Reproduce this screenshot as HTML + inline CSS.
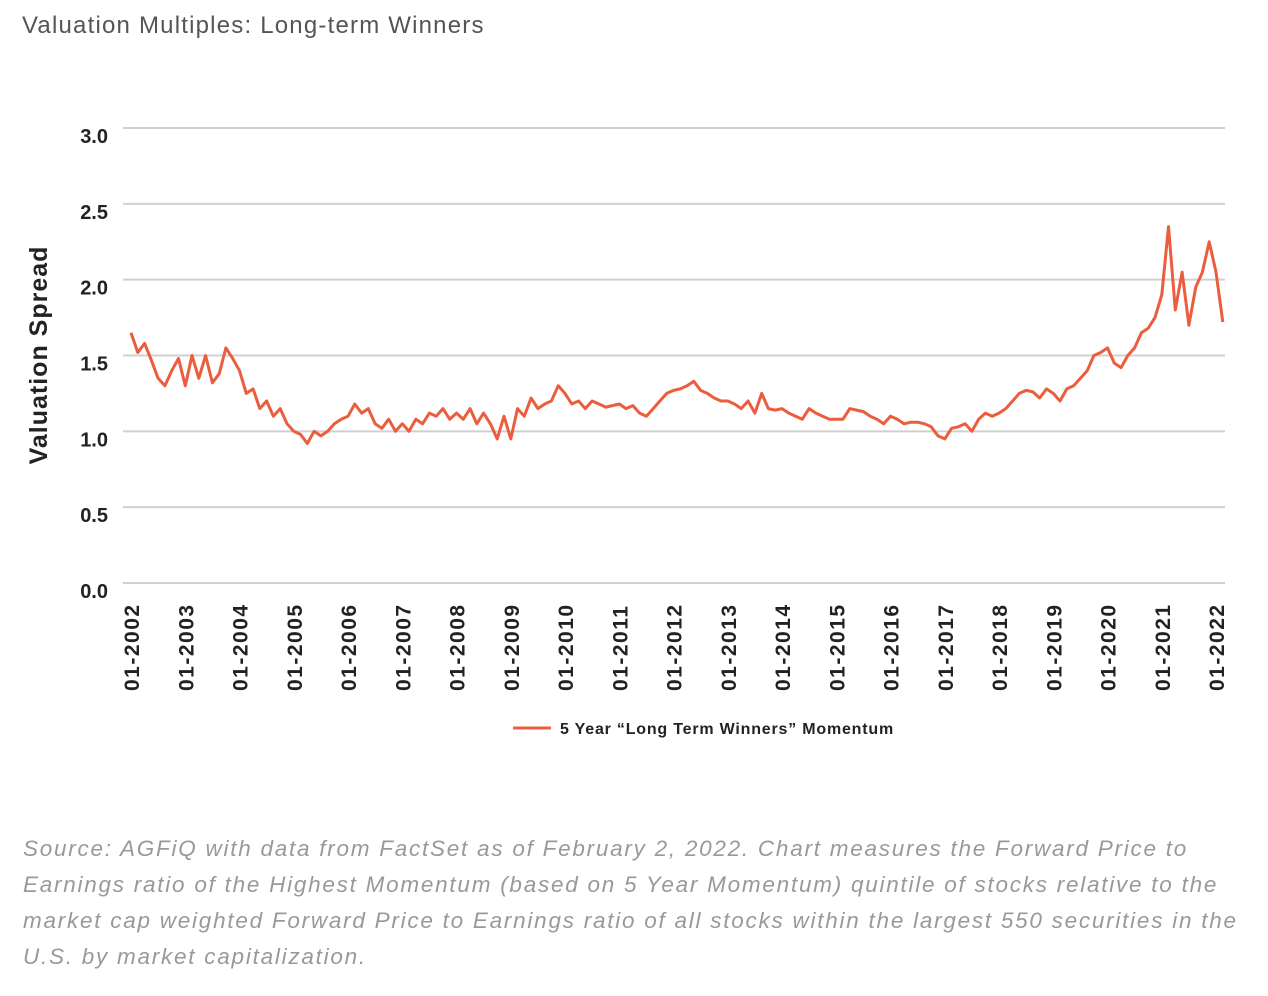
<!DOCTYPE html>
<html><head><meta charset="utf-8"><style>
body{margin:0;background:#fff;width:1268px;height:996px;overflow:hidden;font-family:"Liberation Sans",sans-serif}
#title{position:absolute;left:22px;top:12px;font-size:24px;color:#555;letter-spacing:1.2px}
#src{position:absolute;left:23px;top:831px;white-space:nowrap;font-size:22.5px;line-height:36px;font-style:italic;color:#999;letter-spacing:1.75px}
svg{position:absolute;left:0;top:0}
</style></head><body>
<div id="title">Valuation Multiples: Long-term Winners</div>
<svg id="chart" width="1268" height="800"></svg>
<div id="src">Source: AGFiQ with data from FactSet as of February 2, 2022. Chart measures the Forward Price to<br>Earnings ratio of the Highest Momentum (based on 5 Year Momentum) quintile of stocks relative to the<br>market cap weighted Forward Price to Earnings ratio of all stocks within the largest 550 securities in the<br>U.S. by market capitalization.</div>
<script>
const yTicks=[0,0.5,1.0,1.5,2.0,2.5,3.0];
const xLabels=["01-2002","01-2003","01-2004","01-2005","01-2006","01-2007","01-2008","01-2009","01-2010","01-2011","01-2012","01-2013","01-2014","01-2015","01-2016","01-2017","01-2018","01-2019","01-2020","01-2021","01-2022"];
const startYear=2002, stepYear=1/8;
const values=[
1.65,1.52,1.58,1.47,1.35,1.30,1.40,1.48,
1.30,1.50,1.35,1.50,1.32,1.38,1.55,1.48,
1.40,1.25,1.28,1.15,1.20,1.10,1.15,1.05,
1.00,0.98,0.92,1.00,0.97,1.00,1.05,1.08,
1.10,1.18,1.12,1.15,1.05,1.02,1.08,1.00,
1.05,1.00,1.08,1.05,1.12,1.10,1.15,1.08,
1.12,1.08,1.15,1.05,1.12,1.05,0.95,1.10,
0.95,1.15,1.10,1.22,1.15,1.18,1.20,1.30,
1.25,1.18,1.20,1.15,1.20,1.18,1.16,1.17,
1.18,1.15,1.17,1.12,1.10,1.15,1.20,1.25,
1.27,1.28,1.30,1.33,1.27,1.25,1.22,1.20,
1.20,1.18,1.15,1.20,1.12,1.25,1.15,1.14,
1.15,1.12,1.10,1.08,1.15,1.12,1.10,1.08,
1.08,1.08,1.15,1.14,1.13,1.10,1.08,1.05,
1.10,1.08,1.05,1.06,1.06,1.05,1.03,0.97,
0.95,1.02,1.03,1.05,1.00,1.08,1.12,1.10,
1.12,1.15,1.20,1.25,1.27,1.26,1.22,1.28,
1.25,1.20,1.28,1.30,1.35,1.40,1.50,1.52,
1.55,1.45,1.42,1.50,1.55,1.65,1.68,1.75,
1.90,2.35,1.80,2.05,1.70,1.95,2.05,2.25,
2.05,1.72];
const NS="http://www.w3.org/2000/svg";
const svg=document.getElementById('chart');
const L=123,R=1225,Y0=583,Y3=128;
const x0=131,x20=1216;
function yS(v){return Y0-(v/3)*(Y0-Y3);}
function xS(yr){return x0+(yr-2002)*(x20-x0)/20;}
function mk(t,a){const e=document.createElementNS(NS,t);for(const k in a)e.setAttribute(k,a[k]);svg.appendChild(e);return e;}
yTicks.forEach(v=>{
  const g=mk('line',{x1:L,x2:R,y1:yS(v),y2:yS(v),stroke:'#d0d0d0','stroke-width':2});
  
  
  const t=mk('text',{x:108,y:yS(v)+15,'text-anchor':'end','font-size':20,'font-weight':'bold',fill:'#222'});
  t.textContent=v.toFixed(1);
  
  
});
xLabels.forEach((s,i)=>{
  const x=xS(2002+i);
  const t=mk('text',{x:0,y:0,transform:`translate(${x+8},691) rotate(-90)`,'font-size':21,'font-weight':'bold',fill:'#222','letter-spacing':1.5});
  t.textContent=s;
  
  
});
const yt=mk('text',{x:0,y:0,transform:'translate(47,355) rotate(-90)','text-anchor':'middle','font-size':25,'font-weight':'bold',fill:'#222','letter-spacing':1});
yt.textContent='Valuation Spread';


const d=values.map((v,i)=>(i?'L':'M')+xS(startYear+i*stepYear).toFixed(1)+','+yS(v).toFixed(1)).join('');
const p=mk('path',{d:d,fill:'none',stroke:'#eb5d3d','stroke-width':3,'stroke-linejoin':'round'});


const ll=mk('line',{x1:513,x2:551,y1:728,y2:728,stroke:'#eb5d3d','stroke-width':3});


const lt=mk('text',{x:560,y:734,'font-size':16,'font-weight':'bold',fill:'#222','letter-spacing':0.8});
lt.textContent='5 Year \u201CLong Term Winners\u201D Momentum';


</script>
</body></html>
